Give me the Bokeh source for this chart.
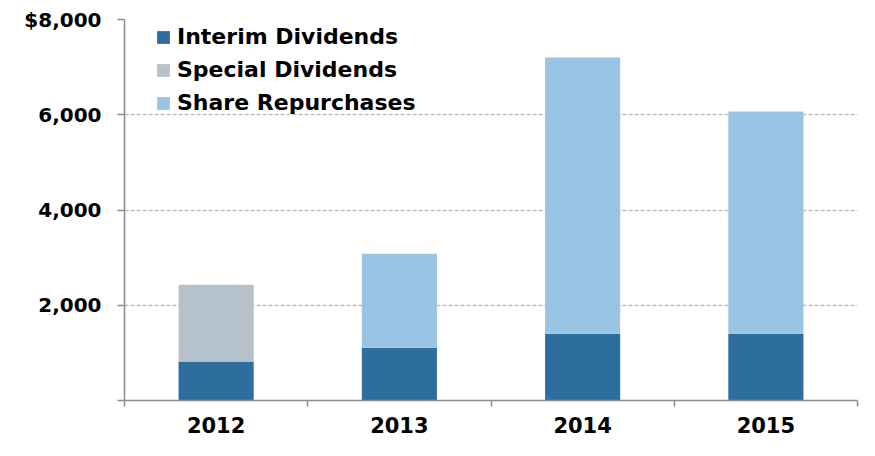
from bokeh.plotting import figure
from bokeh.models import ColumnDataSource, FixedTicker, Range1d, Legend, LegendItem
from bokeh.embed import file_html
from bokeh.resources import INLINE

years = ["2012", "2013", "2014", "2015"]
interim = [820, 1110, 1400, 1400]
special = [1610, 0, 0, 0]
repurchases = [0, 1970, 5800, 4670]
series = ["Interim Dividends", "Special Dividends", "Share Repurchases"]
colors = ["#2E6E9E", "#B5C2CB", "#9AC4E3"]
y_ticks = [0, 2000, 4000, 6000, 8000]
y_labels = ["", "2,000", "4,000", "6,000", "$8,000"]

xpos = [i + 0.5 for i in range(len(years))]
bounds = [float(i) for i in range(len(years) + 1)]
src = ColumnDataSource(dict(x=xpos, interim=interim, special=special, rep=repurchases))

FONT = "DejaVu Sans"
AX = "#8c8c8c"

p = figure(width=859, height=440, output_backend="svg", toolbar_location=None,
           x_range=Range1d(0, len(years)), y_range=Range1d(0, 8000),
           min_border_left=124, min_border_right=2, min_border_top=19, min_border_bottom=40)
p.outline_line_color = None
p.background_fill_color = "white"

rs = p.vbar_stack(["interim", "special", "rep"], x="x", width=0.41, fill_color=colors,
                  line_color=None, source=src)

# x axis
p.xaxis.ticker = FixedTicker(ticks=xpos, minor_ticks=bounds)
p.xaxis.major_label_overrides = {x: y for x, y in zip(xpos, years)}
p.xaxis.major_tick_line_color = None
p.xaxis.minor_tick_line_color = AX
p.xaxis.minor_tick_out = 6
p.xaxis.minor_tick_in = 0
p.xaxis.axis_line_color = AX
p.xaxis.axis_line_width = 1.5
p.xaxis.minor_tick_line_width = 1.5
p.xaxis.major_label_text_font = FONT
p.xaxis.major_label_text_font_style = "bold"
p.xaxis.major_label_text_font_size = "21px"
p.xaxis.major_label_text_color = "black"
p.xaxis.major_label_standoff = 10

# y axis
p.yaxis.ticker = FixedTicker(ticks=y_ticks)
p.yaxis.major_label_overrides = {t: l for t, l in zip(y_ticks, y_labels)}
p.yaxis.major_tick_out = 7
p.yaxis.major_tick_in = 0
p.yaxis.major_tick_line_color = AX
p.yaxis.major_tick_line_width = 1.5
p.yaxis.minor_tick_line_color = None
p.yaxis.axis_line_color = AX
p.yaxis.axis_line_width = 1.5
p.yaxis.major_label_text_font = FONT
p.yaxis.major_label_text_font_style = "bold"
p.yaxis.major_label_text_font_size = "20px"
p.yaxis.major_label_text_color = "black"
p.yaxis.major_label_standoff = 16

p.xgrid.visible = False
p.ygrid.ticker = FixedTicker(ticks=y_ticks[1:])
p.ygrid.grid_line_color = "#bdbdbd"
p.ygrid.grid_line_dash = "4 2"
p.ygrid.grid_line_width = 1.5

legend = Legend(items=[LegendItem(label=s, renderers=[r]) for s, r in zip(series, rs)],
                location=(31, 285), padding=0, margin=0, spacing=8,
                glyph_width=16, glyph_height=16, label_height=24, label_standoff=6,
                border_line_color=None, background_fill_alpha=0,
                label_text_font=FONT, label_text_font_style="bold",
                label_text_font_size="22px", label_text_color="black")
p.add_layout(legend)

open("out.html", "w").write(file_html(p, INLINE))
